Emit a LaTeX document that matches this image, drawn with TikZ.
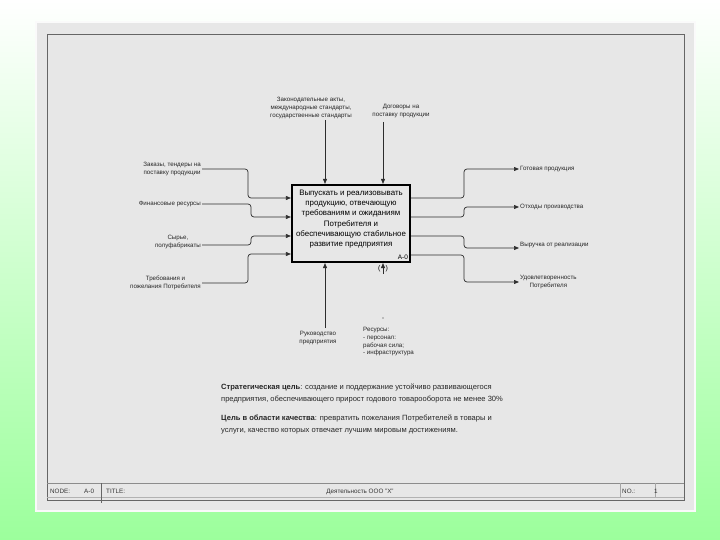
\documentclass[tikz,border=0pt]{standalone}
\usepackage{fontspec}
\setmainfont{Liberation Sans}
\usetikzlibrary{arrows.meta,calc}
\definecolor{bggreen}{RGB}{156,255,156}
\definecolor{panel}{RGB}{231,231,231}
\definecolor{lnk}{RGB}{45,45,45}
\begin{document}
\begin{tikzpicture}[x=1pt,y=-1pt,
  lbl/.style={font=\fontsize{6.2}{7.8}\selectfont, align=center, inner sep=1pt, text=black!85},
  arr/.style={draw=lnk, line width=0.7pt, rounded corners=3pt, -{Triangle[length=5pt,width=4pt]}},
  foot/.style={font=\fontsize{6.3}{7.5}\selectfont, inner sep=0pt, anchor=west, text=black!80}]
% background
\shade[top color=white, bottom color=bggreen, middle color={rgb,255:red,205;green,255;blue,205}] (0,0) rectangle (720,540);
\useasboundingbox (0,0) rectangle (720,540);
% panel
\fill[white!96!gray] (35,21) rectangle (696,512);
\fill[panel] (37,23) rectangle (694,510);
% frame
\draw[black!60, line width=0.8pt] (47,34) rectangle (684,500);
\draw[black!45, line width=0.5pt] (47,483) -- (684,483);
\draw[black!30, line width=0.4pt] (47,497) -- (684,497);
\draw[black!60, line width=0.6pt] (101,483) -- (101,503);
\draw[black!35, line width=0.4pt] (620,483) -- (620,497);
\draw[black!35, line width=0.4pt] (655,483) -- (655,497);
\node[foot] (fnode) at (50,491) {NODE:};
\node[foot] (fa0) at (84,491) {A-0};
\node[foot] (ftitle) at (106,491) {TITLE:};
\node[foot, anchor=center] (fname) at (360,491.5) {Деятельность ООО "Х"};
\node[foot] (fno) at (622,491) {NO.:};
\node[foot] (fnum) at (654,491) {1};
% main box
\node[draw=black, line width=2.2pt, fill=panel, minimum width=118pt, minimum height=77pt, inner sep=0pt] (box) at (351,223.5) {};
\node[align=center, inner sep=0pt, font=\fontsize{7.9}{10.3}\selectfont] (boxtxt) at (351,219)
  {Выпускать и реализовывать\\продукцию, отвечающую\\требованиям и ожиданиям\\Потребителя и\\обеспечивающую стабильное\\развитие предприятия};
\node[font=\fontsize{6.5}{7}\selectfont, inner sep=0pt, anchor=south east] (a0) at ($(box.south east)+(-3,-3)$) {A-0};
% inputs
\node[lbl, anchor=east] (in1) at (202,169) {Заказы, тендеры на\\поставку продукции};
\node[lbl, anchor=east] (in2) at (202,204) {Финансовые ресурсы};
\node[lbl, anchor=east] (in3) at (202,242) {Сырье,\\полуфабрикаты};
\node[lbl, anchor=east] (in4) at (202,283) {Требования и\\пожелания Потребителя};
\coordinate (i1) at (box.west |- 0,198);
\coordinate (i2) at (box.west |- 0,217);
\coordinate (i3) at (box.west |- 0,236);
\coordinate (i4) at (box.west |- 0,254);
\draw[arr] (in1.east) -- (248,169) -- (248,198) -- (i1);
\draw[arr] (in2.east) -- (251,204) -- (251,217) -- (i2);
\draw[arr] (in3.east |- 0,245) -- (251,245) -- (251,236) -- (i3);
\draw[arr] (in4.east) -- (248,283) -- (248,254) -- (i4);
% outputs
\node[lbl, anchor=west] (out1) at (519,169) {Готовая продукция};
\node[lbl, anchor=west] (out2) at (519,207) {Отходы производства};
\node[lbl, anchor=west] (out3) at (519,245) {Выручка от реализации};
\node[lbl, anchor=west] (out4) at (519,282) {Удовлетворенность\\Потребителя};
\draw[arr] (box.east |- 0,198) -- (464,198) -- (464,169) -- (out1.west);
\draw[arr] (box.east |- 0,217) -- (464,217) -- (464,207) -- (out2.west);
\draw[arr] (box.east |- 0,236) -- (464,236) -- (464,248) -- (out3.west |- 0,248);
\draw[arr] (box.east |- 0,255) -- (464,255) -- (464,282) -- (out4.west);
% controls
\node[lbl] (ctl1) at (311,108) {Законодательные акты,\\международные стандарты,\\государственные стандарты};
\node[lbl] (ctl2) at (401,111) {Договоры на\\поставку продукции};
\draw[arr] (ctl1.south -| 325,0) -- (box.north -| 325,0);
\draw[arr] (383,122) -- (box.north -| 383,0);
% mechanisms
\node[lbl] (m1) at (318,338) {Руководство\\предприятия};
\node[lbl, align=left, anchor=north west] (m2) at (362,326) {Ресурсы:\\- персонал:\\рабочая сила;\\- инфраструктура};
\draw[arr] (325,328) -- (box.south -| 325,0);
\draw[arr] (383,274) -- (box.south -| 383,0);
\node[font=\fontsize{7}{7}\selectfont, inner sep=0pt] (tun) at (383,269) {(\hspace{5pt})};
\fill[lnk] (383,318) circle (0.6pt);
% bottom text
\node[anchor=north west, align=left, inner sep=0pt,
  font=\fontsize{7.55}{12}\selectfont, text=black!85] (goals) at (221,384)
  {\textbf{Стратегическая цель}: создание и поддержание устойчиво развивающегося\\
   предприятия, обеспечивающего прирост годового товарооборота не менее 30\%\\[7pt]
   \textbf{Цель в области качества}: превратить пожелания Потребителей в товары и\\
   услуги, качество которых отвечает лучшим мировым достижениям.};
\end{tikzpicture}
\end{document}
